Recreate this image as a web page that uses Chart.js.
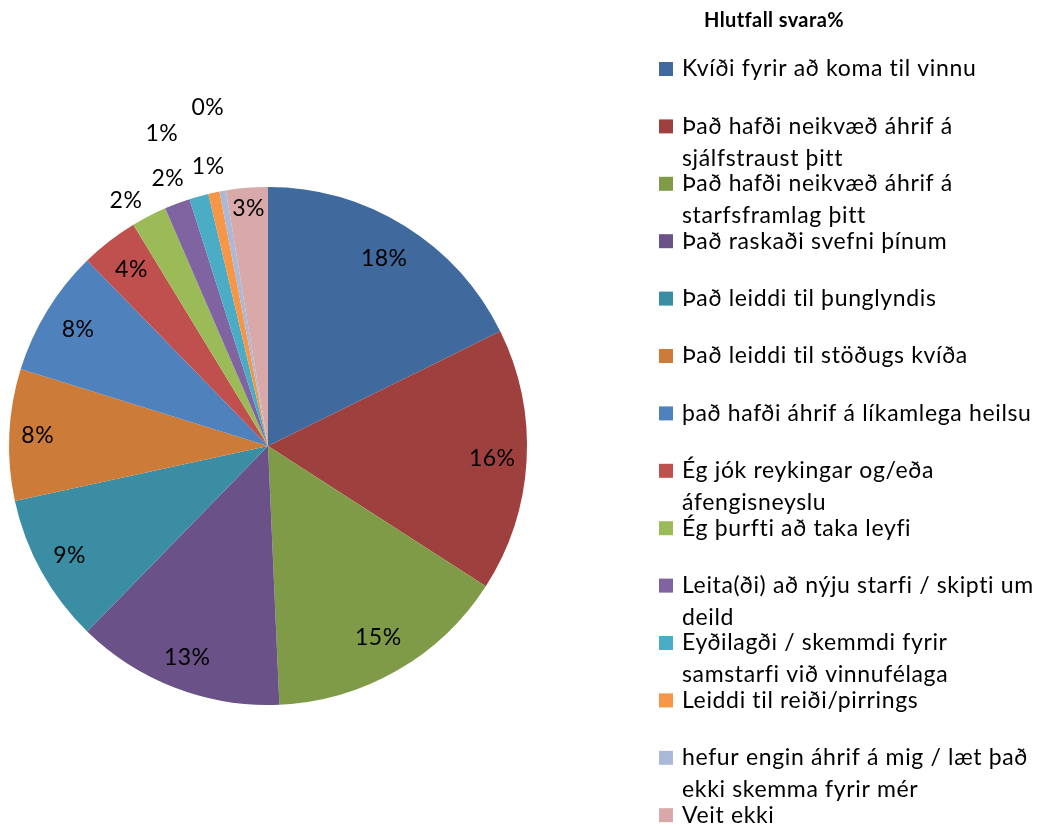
<!DOCTYPE html>
<html>
<head>
<meta charset="utf-8">
<script src="https://cdn.jsdelivr.net/npm/chart.js@4/dist/chart.umd.min.js"></script>
<style>
  html, body { margin: 0; padding: 0; background: #ffffff; }
  #wrap { width: 1040px; height: 825px; position: relative; }
</style>
</head>
<body>
<div id="wrap"><canvas id="c" width="1040" height="825"></canvas></div>
<script>
// ---- data ----
const legendTitle = "Hlutfall svara%";
const categories = [
  ["Kvíði fyrir að koma til vinnu"],
  ["Það hafði neikvæð áhrif á", "sjálfstraust þitt"],
  ["Það hafði neikvæð áhrif á", "starfsframlag þitt"],
  ["Það raskaði svefni þínum"],
  ["Það leiddi til þunglyndis"],
  ["Það leiddi til stöðugs kvíða"],
  ["það hafði áhrif á líkamlega heilsu"],
  ["Ég jók reykingar og/eða", "áfengisneyslu"],
  ["Ég þurfti að taka leyfi"],
  ["Leita(ði) að nýju starfi / skipti um", "deild"],
  ["Eyðilagði / skemmdi fyrir", "samstarfi við vinnufélaga"],
  ["Leiddi til reiði/pirrings"],
  ["hefur engin áhrif á mig / læt það", "ekki skemma fyrir mér"],
  ["Veit ekki"]
];
const shares = [17.7, 16.4, 15.2, 13.0, 9.3, 8.2, 7.9, 3.6, 2.2, 1.6, 1.2, 0.7, 0.4, 2.6];

// ---- style ----
const colors = ["#40699D", "#9E413E", "#7F9B48", "#6A5188", "#3B8DA4", "#CC7B38",
                "#4F81BD", "#C0504D", "#9BBB59", "#8064A2", "#4BACC6", "#F79646",
                "#A9B9D7", "#D9A9A9"];
const labelRadius = [0.85, 0.867, 0.855, 0.875, 0.876, 0.89, 0.86, 0.86, 1.095, 1.104, 1.274, 1.104, 1.328, 0.92];
const labelAngleShift = [0, 0, 0, 0, 0, 0, 0, 0, -2.7, 0, -3.3, 0, 0, 0];
const FONT = "Lato, 'Open Sans', sans-serif";

const sliceLabels = {
  id: 'sliceLabels',
  afterDatasetsDraw(chart) {
    const ctx = chart.ctx;
    const meta = chart.getDatasetMeta(0);
    const vals = chart.data.datasets[0].data;
    const total = vals.reduce((a, b) => a + b, 0);
    ctx.save();
    ctx.font = "23px " + FONT;
    if ('letterSpacing' in ctx) ctx.letterSpacing = "0.5px";
    ctx.fillStyle = "#000";
    ctx.textAlign = "center";
    ctx.textBaseline = "middle";
    meta.data.forEach((arc, i) => {
      const p = arc.getProps(['x', 'y', 'startAngle', 'endAngle', 'outerRadius'], true);
      const mid = (p.startAngle + p.endAngle) / 2 + labelAngleShift[i] * Math.PI / 180;
      const r = p.outerRadius * labelRadius[i];
      const tx = p.x + Math.cos(mid) * r;
      const ty = p.y + Math.sin(mid) * r;
      ctx.fillText(Math.round(vals[i] / total * 100) + "%", tx, ty);
    });
    ctx.restore();
  }
};

const sideLegend = {
  id: 'sideLegend',
  afterDraw(chart) {
    const ctx = chart.ctx;
    ctx.save();
    ctx.fillStyle = "#000";
    ctx.textBaseline = "middle";
    ctx.textAlign = "center";
    ctx.font = "bold 20px " + FONT;
    if ('letterSpacing' in ctx) ctx.letterSpacing = "0.4px";
    ctx.fillText(legendTitle, 774, 21);
    ctx.textAlign = "left";
    ctx.font = "23px " + FONT;
    if ('letterSpacing' in ctx) ctx.letterSpacing = "0.65px";
    const labs = chart.data.labels;
    const cols = chart.data.datasets[0].backgroundColor;
    labs.forEach((lines, i) => {
      const y = 69 + i * 57.4;
      ctx.fillStyle = cols[i];
      ctx.fillRect(659, y - 7, 14, 14);
      ctx.fillStyle = "#000";
      lines.forEach((ln, k) => ctx.fillText(ln, 682, y + k * 32));
    });
    ctx.restore();
  }
};

new Chart(document.getElementById('c'), {
  type: 'pie',
  data: {
    labels: categories,
    datasets: [{
      data: shares,
      backgroundColor: colors,
      borderWidth: 0
    }]
  },
  options: {
    responsive: false,
    animation: false,
    layout: { padding: { left: 9, right: 513, top: 187, bottom: 120 } },
    plugins: {
      legend: { display: false },
      tooltip: { enabled: false }
    }
  },
  plugins: [sliceLabels, sideLegend]
});
</script>
</body>
</html>
